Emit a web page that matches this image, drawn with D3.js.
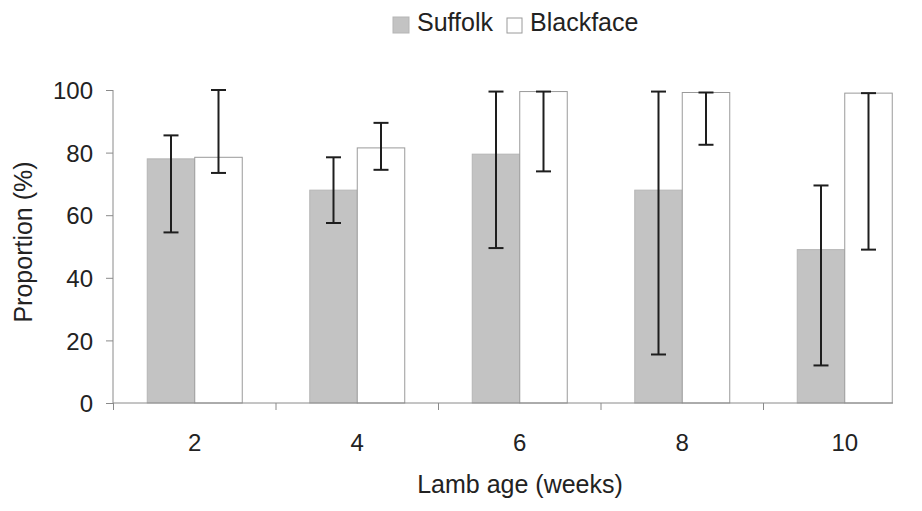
<!DOCTYPE html>
<html>
<head>
<meta charset="utf-8">
<script src="https://cdn.jsdelivr.net/npm/d3@7"></script>
<style>
  html, body { margin: 0; padding: 0; background: #fff; }
  svg { display: block; font-family: "Liberation Sans", Arial, sans-serif; }
</style>
</head>
<body>
<svg id="chart" width="922" height="511"></svg>
<script>
// Lamb age groups (weeks)
const categories = ["2", "4", "6", "8", "10"];
const seriesNames = ["Suffolk", "Blackface"];

// Proportion (%) with lower / upper confidence limits
const suffolk      = [78, 68, 79.5, 68, 49];
const suffolkLow   = [54.5, 57.5, 49.5, 15.5, 12];
const suffolkHigh  = [85.5, 78.5, 99.5, 99.5, 69.5];
const blackface     = [78.5, 81.5, 99.5, 99.2, 99];
const blackfaceLow  = [73.5, 74.5, 74, 82.5, 49];
const blackfaceHigh = [100, 89.5, 99.5, 99.2, 99];

const yTicks = [0, 20, 40, 60, 80, 100];

const rows = categories.map((c, i) => ({
  cat: c,
  bars: [
    { series: "Suffolk", value: suffolk[i], low: suffolkLow[i], high: suffolkHigh[i] },
    { series: "Blackface", value: blackface[i], low: blackfaceLow[i], high: blackfaceHigh[i] }
  ]
}));

const svg = d3.select("#chart");
const textColor = "#222";
const axisColor = "#8a8a8a";

const y = d3.scaleLinear().domain([0, 100]).range([403, 90]);
const x = d3.scaleBand().domain(categories).range([113.5, 113.5 + 5 * 162.5]).padding(0);
const half = 47.5;
const xi = d3.scaleBand().domain(seriesNames)
  .range([x.bandwidth() / 2 - half, x.bandwidth() / 2 + half]).padding(0);

const fills = { Suffolk: "#c3c3c3", Blackface: "#ffffff" };
const strokes = { Suffolk: "#b5b5b5", Blackface: "#9a9a9a" };

// Bars and error bars
const groups = svg.append("g").selectAll("g")
  .data(rows).join("g")
  .attr("transform", d => `translate(${x(d.cat)},0)`);

groups.selectAll("rect")
  .data(d => d.bars).join("rect")
  .attr("x", d => xi(d.series))
  .attr("y", d => y(d.value))
  .attr("width", xi.bandwidth())
  .attr("height", d => y(0) - y(d.value))
  .attr("fill", d => fills[d.series])
  .attr("stroke", d => strokes[d.series])
  .attr("stroke-width", 1);

const capHalf = 7.5;
const err = groups.selectAll("g.err")
  .data(d => d.bars).join("g")
  .attr("class", "err")
  .attr("stroke", "#1e1e1e")
  .attr("stroke-width", 2);

err.append("line")
  .attr("x1", d => xi(d.series) + xi.bandwidth() / 2)
  .attr("x2", d => xi(d.series) + xi.bandwidth() / 2)
  .attr("y1", d => y(d.low))
  .attr("y2", d => y(d.high));
err.append("line")
  .attr("x1", d => xi(d.series) + xi.bandwidth() / 2 - capHalf)
  .attr("x2", d => xi(d.series) + xi.bandwidth() / 2 + capHalf)
  .attr("y1", d => y(d.high))
  .attr("y2", d => y(d.high));
err.append("line")
  .attr("x1", d => xi(d.series) + xi.bandwidth() / 2 - capHalf)
  .attr("x2", d => xi(d.series) + xi.bandwidth() / 2 + capHalf)
  .attr("y1", d => y(d.low))
  .attr("y2", d => y(d.low));

// Y axis
const yAxis = svg.append("g")
  .attr("transform", "translate(113,0)")
  .call(d3.axisLeft(y).tickValues(yTicks).tickSize(7).tickPadding(13).tickFormat(d3.format("d")));
yAxis.select(".domain").attr("stroke", axisColor).attr("d", `M0,${y(100)}V${y(0)}`);
yAxis.selectAll(".tick line").attr("stroke", axisColor);
yAxis.selectAll(".tick text")
  .attr("fill", textColor)
  .style("font-size", "24px")
  .attr("dy", "0.36em");

// X axis: labels at band centres, ticks at band boundaries
const xAxis = svg.append("g")
  .attr("transform", `translate(0,${y(0)})`)
  .call(d3.axisBottom(x).tickSize(0).tickPadding(31));
xAxis.select(".domain").attr("stroke", axisColor).attr("d", "M113,0H893");
xAxis.selectAll(".tick text")
  .attr("fill", textColor)
  .style("font-size", "24px");

const bounds = categories.map(c => x(c)).slice(0, categories.length);
xAxis.append("g").selectAll("line")
  .data(bounds).join("line")
  .attr("x1", d => d).attr("x2", d => d)
  .attr("y1", 0).attr("y2", 7)
  .attr("stroke", axisColor);

// Axis titles
svg.append("text")
  .attr("x", 520).attr("y", 493)
  .attr("text-anchor", "middle")
  .attr("fill", textColor)
  .style("font-size", "25px")
  .text("Lamb age (weeks)");

svg.append("text")
  .attr("transform", "translate(32,242) rotate(-90)")
  .attr("text-anchor", "middle")
  .attr("fill", textColor)
  .style("font-size", "25px")
  .text("Proportion (%)");

// Legend
const legendItems = [
  { name: "Suffolk", sx: 393, sy: 17, size: 16, tx: 417 },
  { name: "Blackface", sx: 507, sy: 18, size: 15, tx: 530 }
];
const lg = svg.append("g").selectAll("g").data(legendItems).join("g");
lg.append("rect")
  .attr("x", d => d.sx).attr("y", d => d.sy)
  .attr("width", d => d.size).attr("height", d => d.size)
  .attr("fill", d => fills[d.name])
  .attr("stroke", d => strokes[d.name]);
lg.append("text")
  .attr("x", d => d.tx).attr("y", 31)
  .attr("fill", textColor)
  .style("font-size", "25px")
  .text(d => d.name);
</script>
</body>
</html>
